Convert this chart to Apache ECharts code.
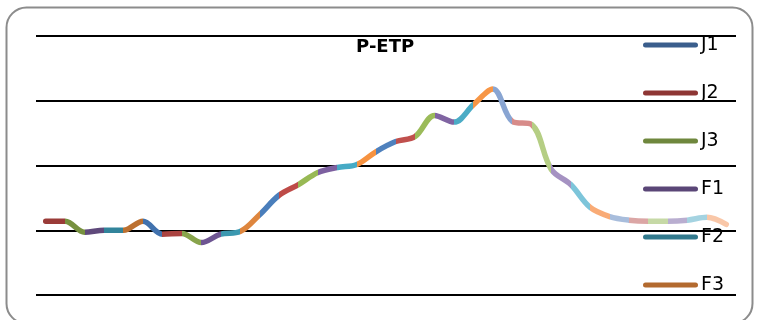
<!DOCTYPE html>
<html>
<head>
<meta charset="utf-8">
<script src="https://cdn.jsdelivr.net/npm/echarts@6/dist/echarts.min.js"></script>
<style>html,body{margin:0;padding:0;background:#fff}#c{width:758px;height:320px}</style>
</head>
<body>
<div id="c"></div>
<script>
// Ten-day periods (dekads) of the year
var categories = ['J1','J2','J3','F1','F2','F3','M1','M2','M3','A1','A2','A3',
                  'M1','M2','M3','J1','J2','J3','J1','J2','J3','A1','A2','A3',
                  'S1','S2','S3','O1','O2','O3','N1','N2','N3','D1','D2','D3'];
// P-ETP values (arbitrary units)
var petp = [-43, -43, -51.5, -50, -50, -43, -53, -52.5, -59.5, -53, -51, -38,
            -23, -14.7, -5.4, -1.5, 0.8, 10.8, 18.5, 22.4, 38.6, 33.5, 47, 59,
            34, 31.6, -3, -14.7, -32.4, -39.4, -42.2, -43, -43, -42.2, -40, -45.5];
var legendNames = ['J1','J2','J3','F1','F2','F3'];
var yTicks = [-100, -50, 0, 50, 100];

var pointColors = [
  '#3A5E8C','#9A3B38','#77913F','#5F497B','#32849B','#BC7030',
  '#4172AE','#AA4340','#88A44C','#6E5592','#3B98B0','#DE863E',
  '#4A7EBB','#BE4B48','#98B954','#7D60A0','#46AAC5','#F69240',
  '#4F81BD','#C0504D','#9BBB59','#8064A2','#4BACC6','#F79646',
  '#89A5D2','#D78B89','#B5CE84','#A592C2','#7DC5DA','#F9AB76',
  '#A8BDDC','#DBA6A5','#C6D9A6','#B9AED0','#A4D3E1','#F9C7A8'
];
var legendColors = ['#3A5E8C','#8E3634','#6F873D','#5A4677','#31798D','#B36A2F'];

var n = categories.length;
var pieces = [{lt: 0, color: pointColors[1]}];
for (var k = 1; k < n; k++) {
  var p = {lte: k, color: pointColors[k]};
  if (k === 1) p.gte = 0; else p.gt = k - 1;
  pieces.push(p);
}
pieces.push({gt: n - 1, color: pointColors[n - 1]});

var series = [{
  type: 'line',
  name: 'P-ETP',
  data: petp,
  smooth: 0.35,
  showSymbol: false,
  lineStyle: {width: 5.5, cap: 'round', join: 'round'},
  silent: true,
  z: 3
}];
legendNames.forEach(function (nm, i) {
  series.push({type: 'line', name: nm, data: [], itemStyle: {color: legendColors[i]}, lineStyle: {color: legendColors[i]}});
});

var chart = echarts.init(document.getElementById('c'), null, {renderer: 'canvas'});
chart.setOption({
  animation: false,
  backgroundColor: '#fff',
  title: {
    text: 'P-ETP',
    left: 356, top: 38,
    padding: 0,
    textStyle: {fontFamily: 'DejaVu Sans', fontWeight: 'bold', fontSize: 18, color: '#000'}
  },
  legend: {
    orient: 'vertical',
    left: 643, top: 35,
    padding: 0,
    itemWidth: 55, itemHeight: 5,
    itemGap: 28,
    icon: 'path://M2.5,0 L52.5,0 A2.5,2.5 0 0 1 52.5,5 L2.5,5 A2.5,2.5 0 0 1 2.5,0 Z',
    data: legendNames,
    textStyle: {fontFamily: 'DejaVu Sans', fontSize: 19, color: '#000', lineHeight: 20, padding: [0,0,0,-2]},
    selectedMode: false
  },
  grid: {left: 36, right: 22, top: 36, bottom: 25, containLabel: false},
  xAxis: {
    type: 'category',
    data: categories,
    boundaryGap: true,
    axisLine: {show: false}, axisTick: {show: false}, axisLabel: {show: false}
  },
  yAxis: {
    type: 'value',
    min: yTicks[0], max: yTicks[yTicks.length - 1], interval: 50,
    axisLine: {show: false}, axisTick: {show: false}, axisLabel: {show: false},
    splitLine: {show: true, lineStyle: {color: '#000', width: 2}}
  },
  visualMap: {
    show: false,
    type: 'piecewise',
    dimension: 0,
    seriesIndex: 0,
    pieces: pieces,
    outOfRange: {color: pointColors[n - 1]}
  },
  graphic: [{
    type: 'rect',
    shape: {x: 6.5, y: 7.5, width: 746, height: 316, r: 20},
    style: {fill: 'none', stroke: '#8c8c8c', lineWidth: 2},
    silent: true, z: 0
  }],
  series: series
});
</script>
</body>
</html>
